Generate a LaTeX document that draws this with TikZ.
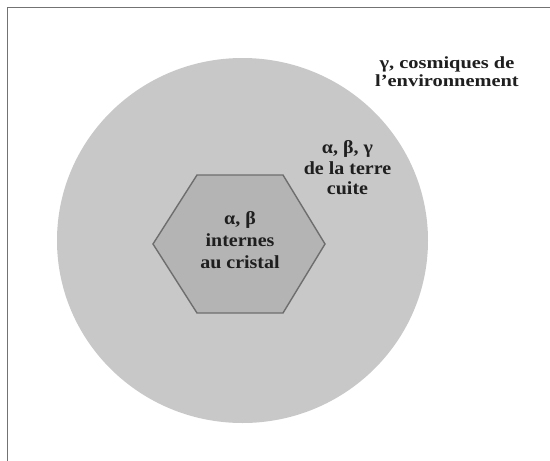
\documentclass[tikz,border=0pt]{standalone}
\usepackage{fontspec}
\setmainfont{Liberation Serif}
\newfontfamily\envfont[FakeStretch=1.2]{Liberation Serif}
\newfontfamily\lblfont[FakeStretch=1.08]{Liberation Serif}
\begin{document}
\begin{tikzpicture}[x=1pt,y=-1pt,
  envlbl/.style={font=\envfont\bfseries\fontsize{17}{18}\selectfont, text=black!88, anchor=base, inner sep=0pt},
  lbl/.style={font=\lblfont\bfseries\fontsize{18.5}{21}\selectfont, text=black!88, anchor=base, inner sep=0pt},
  frameline/.style={draw=black!55, line width=1.6pt}]
\useasboundingbox (0,0) rectangle (550,461);
\fill[white] (0,0) rectangle (550,461);
% frame (top and left)
\coordinate (tl) at (7.5,7.5);
\coordinate (tr) at (550,7.5);
\coordinate (bl) at (7.5,461);
\draw[frameline] (tr) -- (tl) -- (bl);
% circle (terre cuite)
\fill[fill={rgb,255:red,200;green,200;blue,200}] (242.5,240.5) ellipse [x radius=185.5, y radius=182.5];
% hexagon (cristal)
\coordinate (h1) at (153,244);
\coordinate (h2) at (197,175);
\coordinate (h3) at (283,175);
\coordinate (h4) at (325,244);
\coordinate (h5) at (283,313);
\coordinate (h6) at (197,313);
\draw[fill={rgb,255:red,180;green,180;blue,180}, draw={rgb,255:red,110;green,110;blue,110}, line width=1.4pt, line join=miter]
  (h1) -- (h2) -- (h3) -- (h4) -- (h5) -- (h6) -- cycle;
% labels
\node[envlbl] (env1) at (447,68) {γ, cosmiques de};
\node[envlbl] (env2) at (447,86) {l’environnement};
\node[lbl] (terre1) at (347.5,153) {α, β, γ};
\node[lbl] (terre2) at (347.5,174) {de la terre};
\node[lbl] (terre3) at (347.5,194) {cuite};
\node[lbl] (crist1) at (240,224) {α, β};
\node[lbl] (crist2) at (240,246) {internes};
\node[lbl] (crist3) at (240,268) {au cristal};
\end{tikzpicture}
\end{document}
